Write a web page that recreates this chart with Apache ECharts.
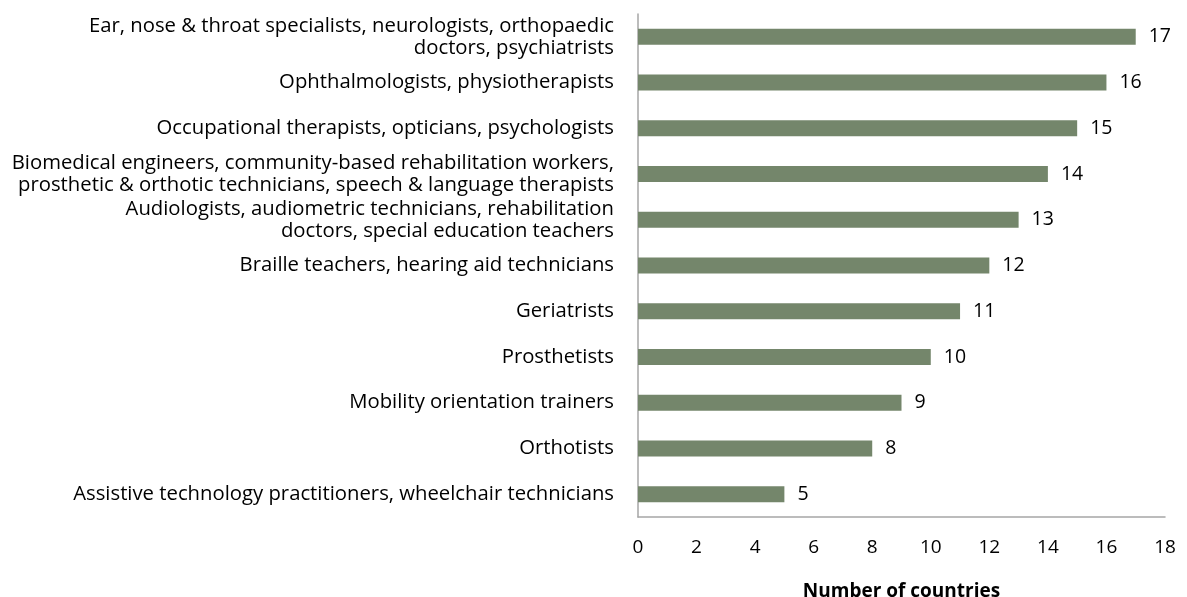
<!DOCTYPE html>
<html><head><meta charset="utf-8">
<script src="https://cdn.jsdelivr.net/npm/echarts@6/dist/echarts.min.js"></script>
<style>html,body{margin:0;padding:0;background:#fff;overflow:hidden}#c{width:1187px;height:597px;display:block}</style>
</head><body><div id="c"></div>
<script>
const categories = [
  "Ear, nose & throat specialists, neurologists, orthopaedic\ndoctors, psychiatrists",
  "Ophthalmologists, physiotherapists",
  "Occupational therapists, opticians, psychologists",
  "Biomedical engineers, community-based rehabilitation workers,\nprosthetic & orthotic technicians, speech & language therapists",
  "Audiologists, audiometric technicians, rehabilitation\ndoctors, special education teachers",
  "Braille teachers, hearing aid technicians",
  "Geriatrists",
  "Prosthetists",
  "Mobility orientation trainers",
  "Orthotists",
  "Assistive technology practitioners, wheelchair technicians"
];
const values = [17, 16, 15, 14, 13, 12, 11, 10, 9, 8, 5];
const xAxisTitle = "Number of countries";

const font = "'Open Sans', 'Noto Sans', sans-serif";
const chart = echarts.init(document.getElementById('c'));
chart.setOption({
  animation: false,
  grid: {left: 638, right: 22, top: 14, bottom: 80, containLabel: false, outerBoundsMode: 'none'},
  xAxis: {
    type: 'value', min: 0, max: 18, interval: 2,
    name: xAxisTitle, nameLocation: 'middle', nameGap: 65,
    nameTextStyle: {fontFamily: font, fontSize: 19, fontWeight: 'bold', color: '#000'},
    axisLine: {show: true, lineStyle: {color: '#a6a6a6', width: 1.5}},
    axisTick: {show: false},
    splitLine: {show: false},
    axisLabel: {fontFamily: font, fontSize: 19, color: '#000', margin: 21}
  },
  yAxis: {
    type: 'category', data: categories, inverse: true,
    axisLine: {show: true, lineStyle: {color: '#a6a6a6', width: 1.5}},
    axisTick: {show: false},
    axisLabel: {fontFamily: font, fontSize: 20.3, color: '#000', margin: 24, align: 'right', lineHeight: 22}
  },
  series: [{
    type: 'bar', data: values, barWidth: 16,
    itemStyle: {color: '#74866b'},
    label: {show: true, position: 'right', distance: 13, fontFamily: font, fontSize: 19.5, color: '#000'}
  }]
});
</script></body></html>
